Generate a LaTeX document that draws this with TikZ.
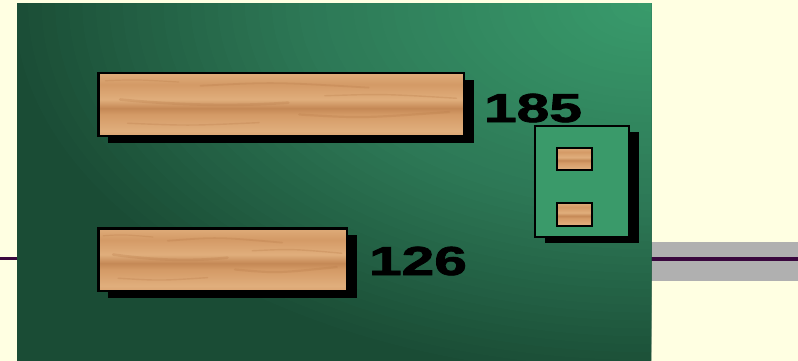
\documentclass[tikz,border=0pt]{standalone}
\usepackage{fontspec}
\newfontfamily\labelfont{Liberation Sans}[BoldFeatures={FakeBold=1.6}]
\usetikzlibrary{shadows}
\definecolor{bgyellow}{RGB}{255,255,226}
\definecolor{panellight}{RGB}{57,156,108}
\definecolor{panelmid}{RGB}{45,120,86}
\definecolor{paneldark}{RGB}{26,76,53}
\definecolor{boxgreen}{RGB}{58,154,106}
\definecolor{woodlight}{RGB}{224,174,124}
\definecolor{woodmid}{RGB}{212,154,102}
\definecolor{wooddark}{RGB}{184,122,72}
\definecolor{wirepurple}{RGB}{58,8,62}
\definecolor{bandgray}{RGB}{176,176,176}
\pgfdeclareverticalshading{woodgrain}{100bp}{color(0bp)=(woodmid); color(9bp)=(woodlight); color(20bp)=(woodmid); color(29bp)=(woodlight); color(42bp)=(woodmid); color(47bp)=(wooddark!55!woodmid); color(54bp)=(woodlight); color(66bp)=(woodmid); color(76bp)=(woodlight); color(88bp)=(woodmid); color(100bp)=(woodlight)}
\newcommand{\woodstreaks}[4]{%
  \begin{scope}[shift={(#1,#2)}, x={(#3pt,0pt)}, y={(0pt,-#4pt)}]
    \clip (0,0) rectangle (1,1);
    \draw[streak, line width=2.6pt] (0.06,0.42) .. controls (0.2,0.50) and (0.36,0.54) .. (0.52,0.47);
    \draw[streak, line width=1.8pt] (0.28,0.20) .. controls (0.48,0.14) .. (0.74,0.23);
    \draw[streak, line width=2.2pt] (0.55,0.66) .. controls (0.72,0.72) .. (0.96,0.62);
    \draw[streak, line width=1.4pt] (0.08,0.80) .. controls (0.25,0.84) .. (0.44,0.79);
    \draw[streak, line width=1.4pt] (0.62,0.36) .. controls (0.78,0.33) .. (0.98,0.40);
    \draw[streak, line width=1.2pt] (0.02,0.12) .. controls (0.1,0.10) .. (0.22,0.14);
  \end{scope}}
\tikzset{
  streak/.style={draw=wooddark, opacity=0.28, line cap=round},
  woodbar/.style={draw=black, line width=2.5pt, shading=woodgrain, inner sep=0pt, outer sep=0pt, anchor=north west,
    drop shadow={shadow xshift=10pt, shadow yshift=-7pt, fill=black, opacity=1}},
  woodpad/.style={draw=black, line width=2pt, shading=woodgrain, inner sep=0pt, outer sep=0pt, anchor=north west},
  jackbox/.style={draw=black, line width=2pt, fill=boxgreen, inner sep=0pt, outer sep=0pt, anchor=north west,
    drop shadow={shadow xshift=10pt, shadow yshift=-6pt, fill=black, opacity=1}},
  numlabel/.style={anchor=base west, inner sep=0pt, outer sep=0pt, font=\labelfont\bfseries\fontsize{40.5}{40.5}\selectfont, text=black},
  wire/.style={draw=wirepurple, line width=3.5pt},
}
\begin{document}
\begin{tikzpicture}[x=1pt, y=-1pt]
  \useasboundingbox (0,0) rectangle (798,361);
  \fill[bgyellow] (0,0) rectangle (798,361);
  % gray band on the right
  \fill[bandgray] (651,242) rectangle (798,281);
  % wires
  \coordinate (leftend) at (0,258.5);
  \coordinate (leftin) at (17,258.5);
  \coordinate (rightin) at (651,259);
  \coordinate (rightend) at (798,259);
  \draw[wire] (leftend) -- (leftin);
  \draw[wire, line width=4pt] (rightin) -- (rightend);
  % green panel with a glow towards the top right
  \begin{scope}
    \clip (17,4) rectangle (651,361);
    \fill[paneldark] (17,4) rectangle (651,361);
    \foreach \i in {48,47,...,1}{
      \pgfmathsetmacro\t{\i/48}
      \pgfmathsetmacro\p{\t>0.54 ? (1-\t)/0.46*100 : \t/0.54*100}
      \pgfmathparse{\t>0.54 ? 1 : 0}
      \ifnum\pgfmathresult=1
        \colorlet{glowtmp}{panelmid!\p!paneldark}
      \else
        \colorlet{glowtmp}{panelmid!\p!panellight}
      \fi
      \fill[glowtmp] (651,4) ellipse [x radius=650*\t, y radius=380*\t];
    }
  \end{scope}
  % wood bars
  \node[woodbar, minimum width=365.5pt, minimum height=62.5pt] (bar185) at (98.25,73.25) {};
  \woodstreaks{98.25}{73.25}{365.5}{62.5}
  \draw[black, line width=2.5pt] (bar185.north west) rectangle (bar185.south east);
  \node[woodbar, minimum width=248.5pt, minimum height=62.5pt] (bar126) at (98.25,228.25) {};
  \woodstreaks{98.25}{228.25}{248.5}{62.5}
  \draw[black, line width=2.5pt] (bar126.north west) rectangle (bar126.south east);
  % labels
  \node[numlabel] (lab185) at (484,122) {\scalebox{1.45}[1]{185}};
  \node[numlabel] (lab126) at (369,275) {\scalebox{1.45}[1]{126}};
  % jack box
  \node[jackbox, minimum width=94pt, minimum height=111pt] (jack) at (535,126) {};
  \node[woodpad, minimum width=35pt, minimum height=22pt] (padtop) at (557,148) {};
  \node[woodpad, minimum width=35pt, minimum height=23pt] (padbot) at (557,203) {};
\end{tikzpicture}
\end{document}
